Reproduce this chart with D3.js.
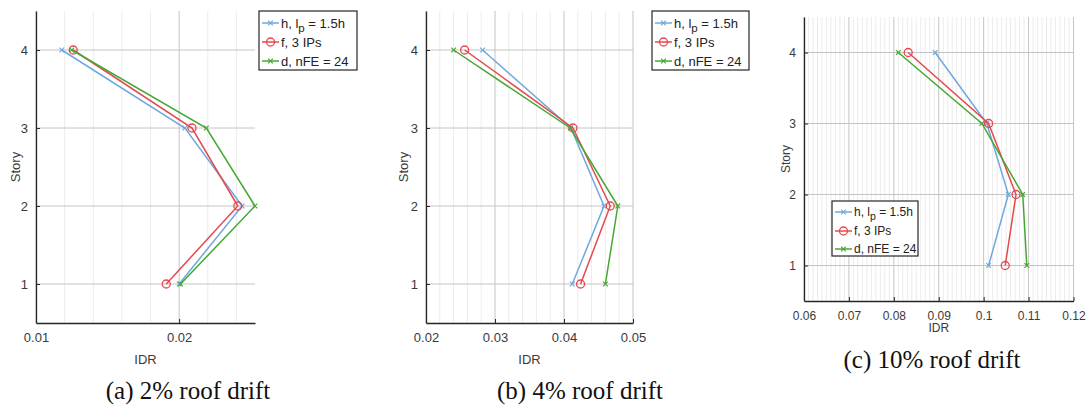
<!DOCTYPE html>
<html><head><meta charset="utf-8">
<script src="https://cdn.jsdelivr.net/npm/d3@7"></script>
<style>
html,body{margin:0;padding:0;background:#fff;}
svg{display:block;}
</style></head>
<body>
<svg id="chart" width="1090" height="408"></svg>
<script>
// ---- data ----
const stories = [1, 2, 3, 4];
const seriesNames = ["h", "f", "d"];
const seriesColors = ["#6fa8dc", "#e5484f", "#46a832"];
const seriesMarkers = ["x", "o", "x"];

// panel (a) 2% roof drift, values for stories 1..4
const hA = [0.0200, 0.0244, 0.0204, 0.0118];
const fA = [0.0191, 0.0241, 0.0209, 0.0126];
const dA = [0.0201, 0.0253, 0.0219, 0.0125];
// panel (b) 4% roof drift
const hB = [0.0412, 0.0458, 0.0410, 0.0282];
const fB = [0.0424, 0.0467, 0.0413, 0.0256];
const dB = [0.0460, 0.0478, 0.0409, 0.0240];
// panel (c) 10% roof drift
const hC = [0.1011, 0.1055, 0.1007, 0.0892];
const fC = [0.1048, 0.1072, 0.1011, 0.0832];
const dC = [0.1096, 0.1087, 0.0996, 0.0810];

const xTicksA = [0.01, 0.02];
const xTicksB = [0.02, 0.03, 0.04, 0.05];
const xTicksC = [0.06, 0.07, 0.08, 0.09, 0.10, 0.11, 0.12];
const xTickLabelsA = ["0.01", "0.02"];
const xTickLabelsB = ["0.02", "0.03", "0.04", "0.05"];
const xTickLabelsC = ["0.06", "0.07", "0.08", "0.09", "0.1", "0.11", "0.12"];
const captions = ["(a) 2% roof drift", "(b) 4% roof drift", "(c) 10% roof drift"];
const xLabel = "IDR";
const yLabel = "Story";

// ---- layout ----
const panels = [
  { series: [hA, fA, dA], xDomain: [0.01, 0.0253], minorStep: 0.002, ticks: xTicksA, labels: xTickLabelsA,
    left: 36, right: 255, top: 11, bottom: 323, font: 13, legFont: 13,
    legend: { x: 259, y: 11, w: 98, h: 59, rows: [23, 42, 61] },
    caption: { x: 188, y: 399 }, yLabX: 16 },
  { series: [hB, fB, dB], xDomain: [0.02, 0.05], minorStep: 0.002, ticks: xTicksB, labels: xTickLabelsB,
    left: 426, right: 633, top: 11, bottom: 323, font: 13, legFont: 13,
    legend: { x: 652, y: 11, w: 97, h: 59, rows: [23, 42, 61] },
    caption: { x: 580, y: 399 }, yLabX: 404 },
  { series: [hC, fC, dC], xDomain: [0.06, 0.12], minorStep: 0.001, ticks: xTicksC, labels: xTickLabelsC,
    left: 804, right: 1073.5, top: 17, bottom: 301, font: 12, legFont: 12,
    legend: { x: 832, y: 201, w: 86, h: 55, rows: [212, 231, 249] },
    caption: { x: 932, y: 368 }, yLabX: 786 }
];

const svg = d3.select("#chart");
const axisColor = "#262626";
const textColor = "#3a3a3a";

function drawMarker(g, type, x, y, color, size) {
  if (type === "o") {
    g.append("circle").attr("cx", x).attr("cy", y).attr("r", size.r)
      .attr("fill", "none").attr("stroke", color).attr("stroke-width", 1.3);
  } else {
    const s = size.x;
    g.append("path").attr("d", `M${x - s},${y - s}L${x + s},${y + s}M${x - s},${y + s}L${x + s},${y - s}`)
      .attr("stroke", color).attr("stroke-width", 1.2).attr("fill", "none");
  }
}

panels.forEach((p, pi) => {
  const x = d3.scaleLinear().domain(p.xDomain).range([p.left, p.right]);
  const y = d3.scaleLinear().domain([0.5, 4.5]).range([p.bottom, p.top]);
  const g = svg.append("g");

  // minor grid
  const minor = d3.range(p.xDomain[0], p.xDomain[1] + 1e-9, p.minorStep)
    .filter(v => !p.ticks.some(t => Math.abs(t - v) < 1e-9));
  g.append("g").selectAll("line").data(minor).join("line")
    .attr("x1", d => x(d)).attr("x2", d => x(d))
    .attr("y1", p.top).attr("y2", p.bottom)
    .attr("stroke", "#ececec").attr("stroke-width", 1);

  // major grid vertical
  g.append("g").selectAll("line").data(p.ticks).join("line")
    .attr("x1", d => x(d)).attr("x2", d => x(d))
    .attr("y1", p.top).attr("y2", p.bottom)
    .attr("stroke", "#c4c4c4").attr("stroke-width", 1);
  // major grid horizontal
  g.append("g").selectAll("line").data(stories).join("line")
    .attr("x1", p.left).attr("x2", p.right)
    .attr("y1", d => y(d)).attr("y2", d => y(d))
    .attr("stroke", "#c4c4c4").attr("stroke-width", 1);

  // axes (d3 axes, inner ticks)
  const xAxis = d3.axisBottom(x).tickValues(p.ticks).tickFormat((d, i) => p.labels[i])
    .tickSizeInner(-4).tickSizeOuter(0).tickPadding(10);
  const gx = g.append("g").attr("transform", `translate(0,${p.bottom})`).call(xAxis);
  const yAxis = d3.axisLeft(y).tickValues(stories).tickFormat(d3.format("d"))
    .tickSizeInner(-4).tickSizeOuter(0).tickPadding(8);
  const gy = g.append("g").attr("transform", `translate(${p.left},0)`).call(yAxis);
  [gx, gy].forEach(a => {
    a.select(".domain").attr("stroke", axisColor).attr("stroke-width", 1.3);
    a.selectAll(".tick line").attr("stroke", axisColor);
    a.selectAll(".tick text").attr("fill", textColor)
      .style("font-family", "Liberation Sans, Arial, sans-serif").style("font-size", p.font + "px");
  });

  // axis labels
  g.append("text").attr("x", (p.left + p.right) / 2).attr("y", p.bottom + (pi === 2 ? 31 : 41))
    .attr("text-anchor", "middle").attr("fill", textColor)
    .style("font-family", "Liberation Sans, Arial, sans-serif").style("font-size", p.font + "px")
    .text(xLabel);
  g.append("text").attr("transform", `translate(${p.yLabX + 4},${(p.top + p.bottom) / 2}) rotate(-90)`)
    .attr("text-anchor", "middle").attr("fill", textColor)
    .style("font-family", "Liberation Sans, Arial, sans-serif").style("font-size", p.font + "px")
    .text(yLabel);

  // series
  const line = d3.line().x(d => x(d.v)).y(d => y(d.s));
  p.series.forEach((vals, si) => {
    const pts = vals.map((v, i) => ({ v, s: stories[i] }));
    g.append("path").datum(pts).attr("d", line)
      .attr("fill", "none").attr("stroke", seriesColors[si]).attr("stroke-width", 1.5);
    const mg = g.append("g");
    pts.forEach(d => drawMarker(mg, seriesMarkers[si], x(d.v), y(d.s), seriesColors[si], { r: 4, x: 2.3 }));
  });

  // legend
  const L = p.legend;
  const lg = g.append("g");
  lg.append("rect").attr("x", L.x).attr("y", L.y).attr("width", L.w).attr("height", L.h)
    .attr("fill", "#fff").attr("stroke", axisColor).attr("stroke-width", 1.2);
  seriesNames.forEach((nm, si) => {
    const ry = L.rows[si];
    lg.append("line").attr("x1", L.x + 3).attr("x2", L.x + 20).attr("y1", ry).attr("y2", ry)
      .attr("stroke", seriesColors[si]).attr("stroke-width", 1.5);
    drawMarker(lg, seriesMarkers[si], L.x + 11.5, ry, seriesColors[si], { r: 4, x: 2.3 });
    const t = lg.append("text").attr("x", L.x + 22).attr("y", ry + p.legFont * 0.36)
      .attr("fill", "#222")
      .style("font-family", "Liberation Sans, Arial, sans-serif").style("font-size", p.legFont + "px");
    if (si === 0) {
      t.append("tspan").text("h, l");
      t.append("tspan").attr("dy", 4).style("font-size", (p.legFont - 1.5) + "px").text("p");
      t.append("tspan").attr("dy", -4).text(" = 1.5h");
    } else if (si === 1) {
      t.text("f, 3 IPs");
    } else {
      t.text("d, nFE = 24");
    }
  });

  // caption
  svg.append("text").attr("x", p.caption.x).attr("y", p.caption.y)
    .attr("text-anchor", "middle").attr("fill", "#111")
    .style("font-family", "Liberation Serif, Times New Roman, serif").style("font-size", "25px")
    .text(captions[pi]);
});
</script>
</body></html>
